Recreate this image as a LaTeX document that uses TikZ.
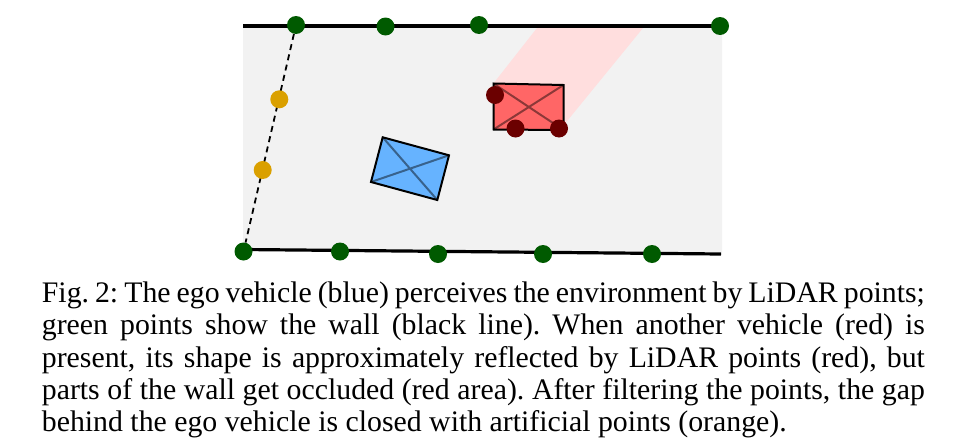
\documentclass[tikz,border=0pt]{standalone}
\usepackage{fontspec}
\setmainfont{Liberation Serif}
\usetikzlibrary{calc}
\begin{document}
\frenchspacing
\begin{tikzpicture}[x=1pt,y=-1pt,
  wall/.style={line width=3.2pt,black},
  gpt/.style={circle,fill=ptgreen,minimum size=18pt,inner sep=0pt},
  opt/.style={circle,fill=ptorange,minimum size=18pt,inner sep=0pt},
  rpt/.style={circle,fill=ptred,minimum size=18pt,inner sep=0pt},
  car/.style={line width=2pt,black,line join=miter},
  diag/.style={line width=2pt,black,opacity=0.45},
  capline/.style={anchor=base west,inner sep=0pt,font=\fontsize{29.8}{32.35}\selectfont}]
\definecolor{ptgreen}{HTML}{005A00}
\definecolor{ptorange}{HTML}{DAA000}
\definecolor{ptred}{HTML}{6B0000}
\definecolor{floorgrey}{HTML}{F2F2F2}
\definecolor{occlshade}{HTML}{FFDEDE}
\definecolor{redcar}{HTML}{FF6666}
\definecolor{bluecar}{HTML}{66B3FF}
\useasboundingbox (0,0) rectangle (963,447);
% floor
\fill[floorgrey] (243,26) -- (722,26) -- (722,252) -- (243,250) -- cycle;
% occluded area
\fill[occlshade] (537,28) -- (643,28) -- (563,126) -- (493,84) -- cycle;
% walls
\coordinate (tl) at (243,26);
\coordinate (tr) at (721,26);
\coordinate (bl) at (243,249.5);
\coordinate (br) at (721,254);
\draw[wall] (tl) -- (tr);
\draw[wall] (bl) -- (br);
% green wall points
\node[gpt] (g1) at (296,25) {};
\node[gpt] (g2) at (385.5,26.5) {};
\node[gpt] (g3) at (479,25) {};
\node[gpt] (g4) at (720,26) {};
\node[gpt] (g5) at (243.5,251.5) {};
\node[gpt] (g6) at (340,251.5) {};
\node[gpt] (g7) at (438,254) {};
\node[gpt] (g8) at (543,254) {};
\node[gpt] (g9) at (652,254) {};
% gap closing dashed line
\draw[line width=1.8pt,dash pattern=on 6pt off 4.5pt] (g1) -- (g5);
% red car
\coordinate (ra) at (493.5,83.5);
\coordinate (rb) at (563.5,85);
\coordinate (rc) at (563.5,130);
\coordinate (rd) at (493.5,129.5);
\fill[redcar] (ra) -- (rb) -- (rc) -- (rd) -- cycle;
\draw[diag] (ra) -- (rc) (rb) -- (rd);
\draw[car] (ra) -- (rb) -- (rc) -- (rd) -- cycle;
% blue car
\coordinate (ba) at (382.7,137.3);
\coordinate (bb) at (449,155.3);
\coordinate (bc) at (437.3,200);
\coordinate (bd) at (371,182);
\fill[bluecar] (ba) -- (bb) -- (bc) -- (bd) -- cycle;
\draw[diag] (ba) -- (bc) (bb) -- (bd);
\draw[car] (ba) -- (bb) -- (bc) -- (bd) -- cycle;
% artificial points
\node[opt] (o1) at (279.3,99.3) {};
\node[opt] (o2) at (262.7,170) {};
% red lidar points
\node[rpt] (r1) at (495,95) {};
\node[rpt] (r2) at (515.5,128.5) {};
\node[rpt] (r3) at (559,128.5) {};
% caption
\node[capline] (c1) at (41.7,302.3) {\makebox[883pt][s]{Fig. 2: The ego vehicle (blue) perceives the environment by LiDAR points;}};
\node[capline] (c2) at (41.7,334.7) {\makebox[883pt][s]{green points show the wall (black line). When another vehicle (red) is}};
\node[capline] (c3) at (41.7,367.0) {\makebox[883pt][s]{present, its shape is approximately reflected by LiDAR points (red), but}};
\node[capline] (c4) at (41.7,399.4) {\makebox[883pt][s]{parts of the wall get occluded (red area). After filtering the points, the gap}};
\node[capline] (c5) at (41.7,431.7) {behind the ego vehicle is closed with artificial points (orange).};
\end{tikzpicture}
\end{document}
